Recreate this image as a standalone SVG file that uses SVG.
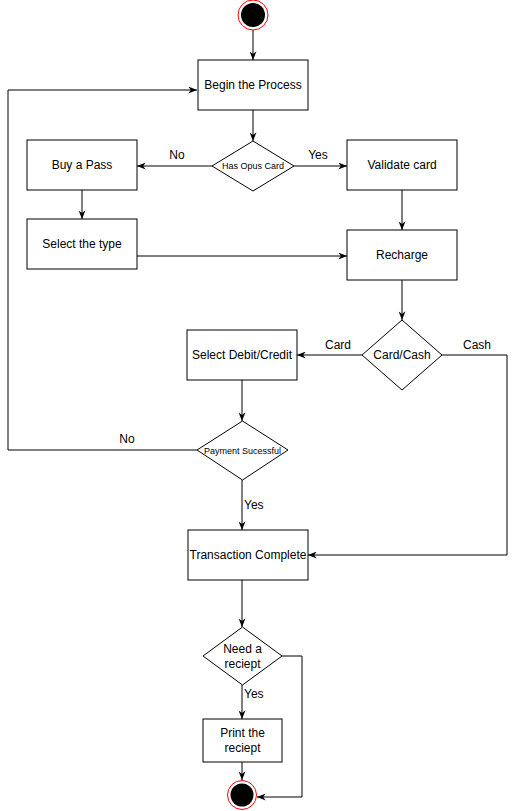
<svg xmlns="http://www.w3.org/2000/svg" width="517" height="811" viewBox="0 0 517 811">
  <style>
    .box { fill: #ffffff; stroke: #000000; stroke-width: 1; }
    .edge { fill: none; stroke: #000000; stroke-width: 1; marker-end: url(#arrow); }
    .line { fill: none; stroke: #000000; stroke-width: 1; }
    text { font-family: "Liberation Sans", Arial, Helvetica, sans-serif; font-size: 12px; fill: #000000; }
    .c { text-anchor: middle; dominant-baseline: central; }
    .small { font-size: 9px; }
    .mid { font-size: 10px; }
    .lbl { dominant-baseline: central; }
  </style>
  <defs>
    <marker id="arrow" viewBox="0 0 10 8" refX="10" refY="4" markerWidth="9" markerHeight="7" markerUnits="userSpaceOnUse" orient="auto">
      <path d="M0,0 L10,4 L0,8 L3,4 z" fill="#000000"/>
    </marker>
  </defs>

  <rect width="517" height="811" fill="#ffffff"/>

  <!-- connectors -->
  <g id="connectors">
    <path class="edge" d="M253,30 V60"/>
    <path class="edge" d="M253,110 V141"/>
    <path class="edge" d="M212,166 H137"/>
    <path class="edge" d="M294,166 H347"/>
    <path class="edge" d="M82,190 V219"/>
    <path class="edge" d="M137,256 H347"/>
    <path class="edge" d="M402,190 V230"/>
    <path class="edge" d="M402,280 V320"/>
    <path class="edge" d="M362,355 H297"/>
    <path class="edge" d="M442,355 H507 V555 H308"/>
    <path class="edge" d="M242,380 V421"/>
    <path class="edge" d="M197,450 H8 V90 H197"/>
    <path class="edge" d="M242,480 V530"/>
    <path class="edge" d="M242,580 V627"/>
    <path class="edge" d="M242,685 V719"/>
    <path class="edge" d="M242,762 V780"/>
    <path class="edge" d="M282,656 H302 V797 H257"/>

    <text class="c" x="177" y="155">No</text>
    <text class="c" x="318" y="155">Yes</text>
    <text class="c" x="338" y="345">Card</text>
    <text class="c" x="477" y="345">Cash</text>
    <text class="c" x="127" y="439">No</text>
    <text class="lbl" x="244" y="505">Yes</text>
    <text class="lbl" x="244" y="694">Yes</text>
  </g>

  <!-- start -->
  <g id="start">
    <circle cx="253" cy="15" r="15" fill="#ffffff" stroke="#ff0000" stroke-width="1"/>
    <circle cx="253" cy="15" r="12" fill="#000000"/>
  </g>

  <g id="begin">
    <rect class="box" x="198" y="60" width="110" height="50"/>
    <text class="c" x="253" y="85">Begin the Process</text>
  </g>

  <g id="has-opus">
    <polygon class="box" points="253,141 294,166 253,191 212,166"/>
    <text class="c small" x="253" y="166">Has Opus Card</text>
  </g>

  <g id="buy-pass">
    <rect class="box" x="27" y="140" width="110" height="50"/>
    <text class="c" x="82" y="165">Buy a Pass</text>
  </g>

  <g id="validate">
    <rect class="box" x="347" y="140" width="110" height="50"/>
    <text class="c" x="402" y="165">Validate card</text>
  </g>

  <g id="select-type">
    <rect class="box" x="27" y="219" width="110" height="50"/>
    <text class="c" x="82" y="244">Select the type</text>
  </g>

  <g id="recharge">
    <rect class="box" x="347" y="230" width="110" height="50"/>
    <text class="c" x="402" y="255">Recharge</text>
  </g>

  <g id="card-cash">
    <polygon class="box" points="402,320 442,355 402,390 362,355"/>
    <text class="c" x="402" y="355">Card/Cash</text>
  </g>

  <g id="select-debit">
    <rect class="box" x="187" y="330" width="110" height="50"/>
    <text class="c" x="242" y="355">Select Debit/Credit</text>
  </g>

  <g id="payment">
    <polygon class="box" points="242.5,421 288,450 242.5,480 197,450"/>
    <text class="c small" x="242.5" y="451">Payment Sucessful</text>
  </g>

  <g id="transaction">
    <rect class="box" x="188" y="530" width="120" height="50"/>
    <text class="c" x="248" y="555">Transaction Complete</text>
  </g>

  <g id="need-receipt">
    <polygon class="box" points="242.5,627 282,656 242.5,685 203,656"/>
    <text class="c" x="242.5" y="649">Need a</text>
    <text class="c" x="242.5" y="664">reciept</text>
  </g>

  <g id="print">
    <rect class="box" x="203" y="719" width="79" height="43"/>
    <text class="c" x="242.5" y="733">Print the</text>
    <text class="c" x="242.5" y="748">reciept</text>
  </g>

  <g id="end">
    <circle cx="242" cy="795" r="14.5" fill="#ffffff" stroke="#ff0000" stroke-width="1"/>
    <circle cx="242" cy="795" r="11.5" fill="#000000"/>
  </g>
</svg>
